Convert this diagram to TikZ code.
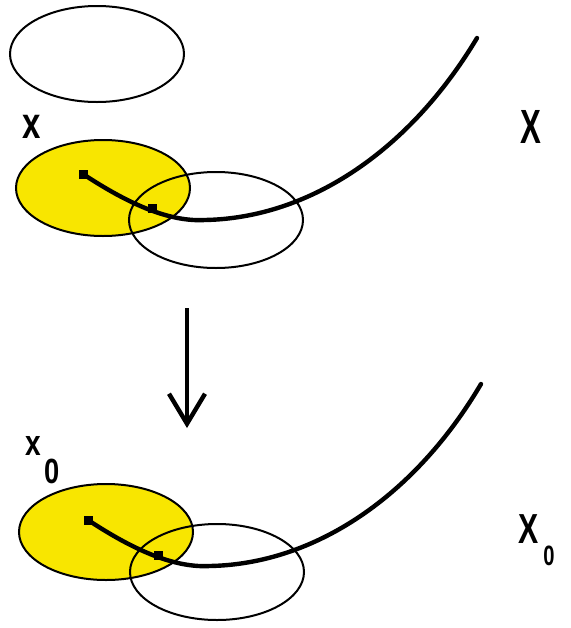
\documentclass[tikz,border=0pt]{standalone}
\usepackage{fontspec}
\usepackage{tikz}
\usetikzlibrary{arrows.meta}
\newfontfamily\lblfont{Liberation Sans}
\definecolor{dYel}{RGB}{248,230,0}
\tikzset{
  lbl/.style={anchor=base west, inner sep=0pt, font=\lblfont\bfseries},
  pt/.style={rectangle, fill=black, inner sep=0pt, minimum size=4.5pt},
  nbhd/.style={draw=black, line width=1pt},
  germ/.style={draw=black, line width=2.2pt, line cap=round},
  down/.style={draw=black, line width=2.2pt, -{Straight Barb[length=15pt,width=18pt]}},
}
\begin{document}
\begin{tikzpicture}[x=0.5pt,y=-0.5pt]
  \useasboundingbox (0,0) rectangle (571,628);
  % top: neighbourhoods and the curve
  \draw[nbhd] (97,54) ellipse [x radius=87, y radius=48];
  \filldraw[nbhd, fill=dYel] (103,188) ellipse [x radius=87, y radius=48];
  \draw[nbhd] (216,220) ellipse [x radius=87, y radius=48];
  \node[pt] (p1) at (83,174) {};
  \node[pt] (q1) at (152,208) {};
  \coordinate (e1) at (477,38);
  \draw[germ] (p1.center) .. controls (130,205) and (170,222) .. (205,220)
              .. controls (310,218) and (410,150) .. (e1);
  \node[lbl, xscale=0.75] (lx) at (22,138) {\fontsize{22}{22}\selectfont x};
  \node[lbl, xscale=0.65] (lX) at (520,143) {\fontsize{24}{24}\selectfont X};
  % arrow
  \coordinate (atop) at (187,308);
  \coordinate (abot) at (187,428);
  \draw[down] (atop) -- (abot);
  % bottom: same picture at x_0
  \filldraw[nbhd, fill=dYel] (106,532) ellipse [x radius=87, y radius=48];
  \draw[nbhd] (217,572) ellipse [x radius=87, y radius=48];
  \node[pt] (p2) at (88,520) {};
  \node[pt] (q2) at (158,555) {};
  \coordinate (e2) at (481,384);
  \draw[germ] (p2.center) .. controls (135,551) and (175,568) .. (210,566)
              .. controls (315,564) and (415,496) .. (e2);
  \node[lbl, xscale=0.78] (lx0) at (25,455)
    {\fontsize{18}{18}\selectfont x\hspace{2.5pt}\raisebox{-14pt}{\fontsize{17.5}{18}\selectfont 0}};
  \node[lbl, xscale=0.72] (lX0) at (518,543)
    {\fontsize{21}{21}\selectfont X\hspace{3.5pt}\raisebox{-11pt}{\fontsize{14}{14}\selectfont 0}};
\end{tikzpicture}
\end{document}
